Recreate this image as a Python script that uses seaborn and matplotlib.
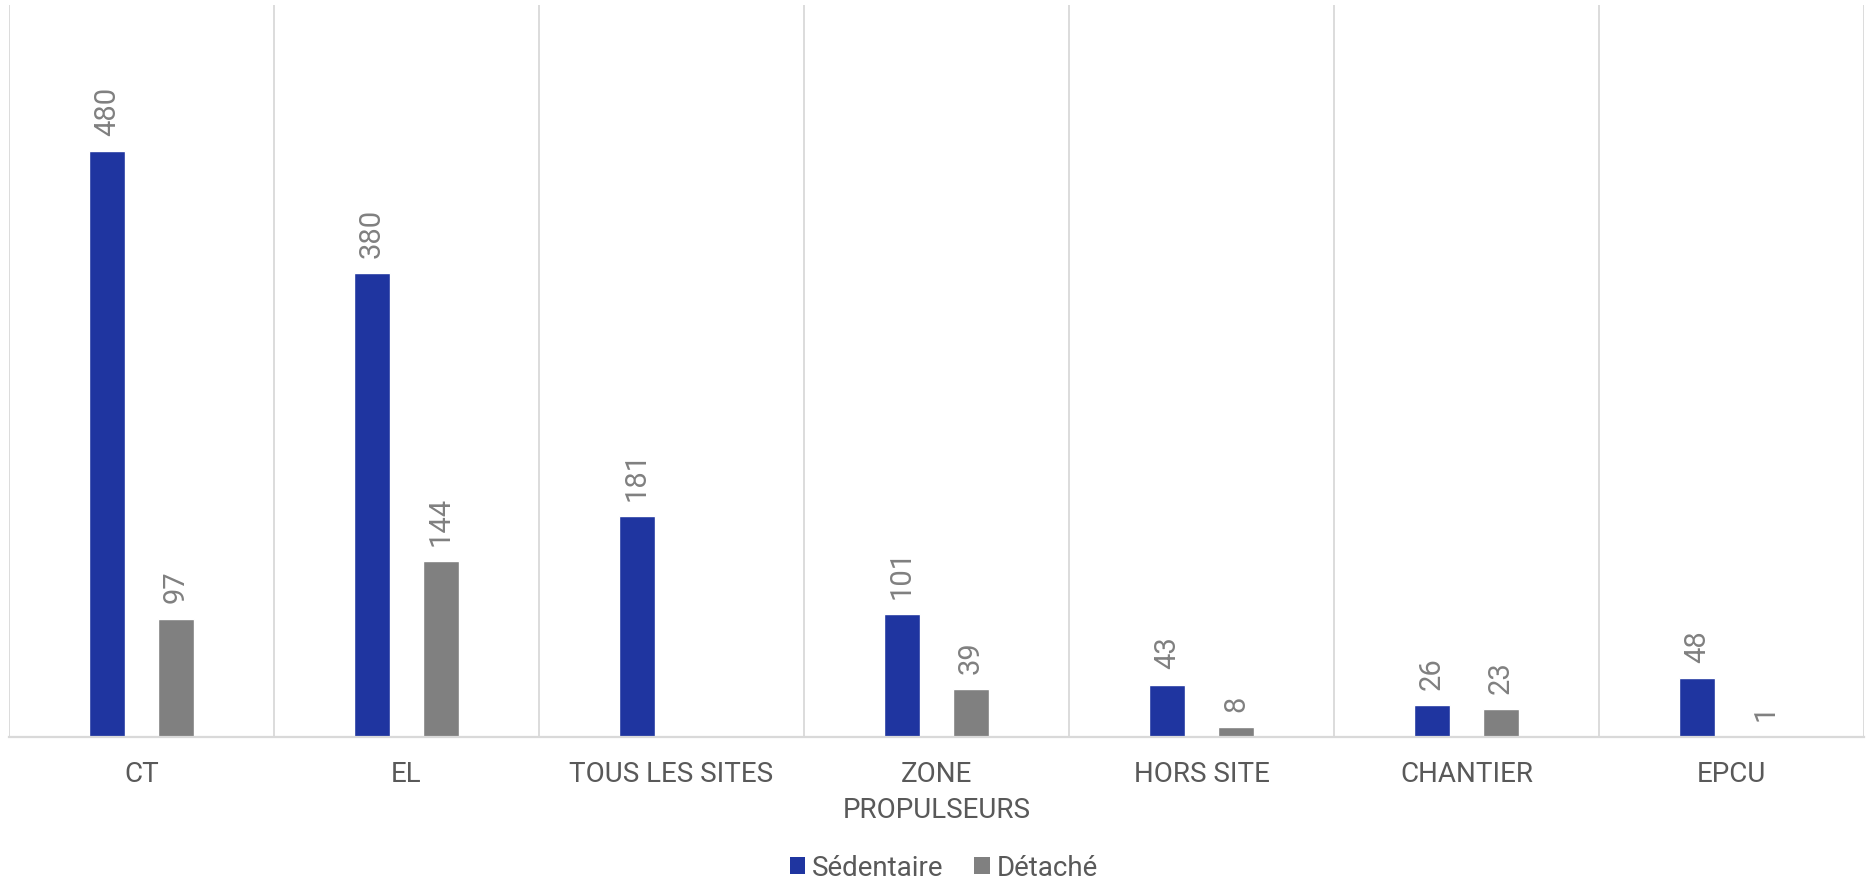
import matplotlib
matplotlib.use("Agg")
import matplotlib.pyplot as plt
import seaborn as sns
import pandas as pd
import numpy as np
from matplotlib.patches import Patch

categories = ["CT", "EL", "TOUS LES SITES", "ZONE\nPROPULSEURS", "HORS SITE", "CHANTIER", "EPCU"]
sedentaire = [480, 380, 181, 101, 43, 26, 48]
detache = [97, 144, np.nan, 39, 8, 23, 1]
series = ["Sédentaire", "Détaché"]
colors = ["#1F35A0", "#808080"]

df = pd.DataFrame({
    "cat": categories * 2,
    "serie": [series[0]] * len(categories) + [series[1]] * len(categories),
    "val": sedentaire + detache,
})

sns.set_theme(style="white")
plt.rcParams["font.family"] = ["Roboto", "DejaVu Sans"]

fig = plt.figure(figsize=(18.66, 8.83), dpi=100)
ax = fig.add_axes([9 / 1866, (883 - 737) / 883, (1864 - 9) / 1866, (737 - 5) / 883])

sns.barplot(data=df, x="cat", y="val", hue="serie", order=categories,
            hue_order=series, palette=colors, width=0.52, gap=0.48,
            saturation=1, ax=ax, legend=False, errorbar=None)

ax.set_xlim(-0.5, len(categories) - 0.5)
ax.set_ylim(0, 600)
ax.set_xlabel("")
ax.set_ylabel("")
ax.set_yticks([])

for s in ["top", "left", "right"]:
    ax.spines[s].set_visible(False)
ax.spines["bottom"].set_color("#D9D9D9")
ax.spines["bottom"].set_linewidth(1.6)

for xv in np.arange(-0.5, len(categories), 1.0):
    ax.axvline(xv, color="#D9D9D9", lw=1.3, zorder=0)

ax.tick_params(axis="x", length=0, pad=17, labelsize=20, labelcolor="#595959")
for lab in ax.get_xticklabels():
    lab.set_linespacing(1.45)

for cont in ax.containers:
    labels = ["" if (v is None or np.isnan(v)) else f"{v:g}" for v in cont.datavalues]
    ax.bar_label(cont, labels=labels, rotation=90, padding=11, fontsize=21,
                 color="#808080")

handles = [Patch(facecolor=c, edgecolor="none", label=l) for c, l in zip(colors, series)]
fig.legend(handles=handles, loc="center", bbox_to_anchor=(944 / 1866, (883 - 868) / 883),
           ncol=2, frameon=False, fontsize=20, handlelength=0.55, handleheight=0.55,
           handletextpad=0.25, columnspacing=1.1, labelcolor="#595959")

fig.savefig("out.png", dpi=100)
